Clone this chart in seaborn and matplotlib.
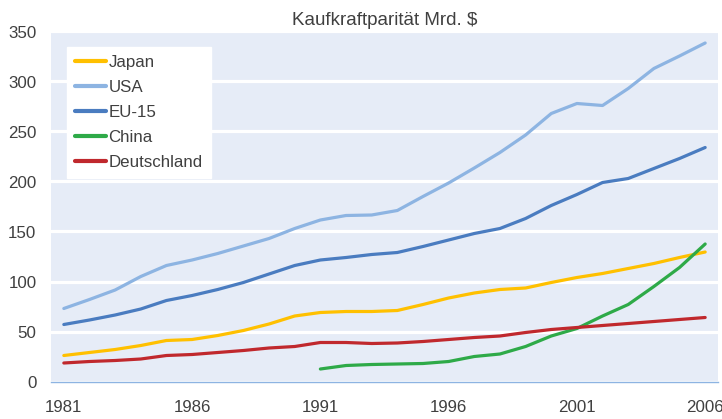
import numpy as np
import pandas as pd
import seaborn as sns
import matplotlib.pyplot as plt
from matplotlib.ticker import FixedLocator

years = list(range(1981, 2007))

japan = [26, 29, 32, 36, 41, 42, 46, 51, 57.5, 65.5, 69, 70, 70, 71, 77, 83.5,
         88.5, 92, 93.5, 99, 104, 108, 113, 118, 124, 129.5]
usa = [73, 82, 91.5, 105, 116, 121.5, 128, 135.5, 143, 153, 161.5, 166, 166.5, 171,
       185, 198.5, 213.5, 229, 246.5, 268, 278, 276, 293, 313, 325.5, 338.5]
eu15 = [57, 61.5, 66.5, 72.5, 81, 86, 92, 99, 107.5, 116, 121.5, 124, 127, 129,
        135, 141.5, 148, 153, 163, 176, 187, 199, 203, 213, 223, 234]
china = [None] * 10 + [12.5, 16, 17, 17.5, 18, 20, 25, 27.5, 35, 45.5, 53, 65.5,
                       77, 95, 114, 137.5]
deutschland = [18.5, 20, 21, 22.5, 26, 27, 29, 31, 33.5, 35, 39, 39, 38, 38.5, 40,
               42, 44, 45.5, 49, 52, 54, 56, 58, 60, 62, 64]

series = ["Japan", "USA", "EU-15", "China", "Deutschland"]
colors = ["#FFC000", "#8DB4E2", "#4A7CC0", "#2EAA48", "#C0282D"]

df = pd.DataFrame({"Jahr": years, "Japan": japan, "USA": usa, "EU-15": eu15,
                   "China": china, "Deutschland": deutschland})
long = df.melt(id_vars="Jahr", var_name="Land", value_name="Wert").dropna()

sns.set_style("white")
plt.rcParams["font.family"] = ["Liberation Sans", "DejaVu Sans"]
txt = "#404040"

fig = plt.figure(figsize=(7.22, 4.19), dpi=100)
ax = fig.add_axes([51 / 722, 37.5 / 419, 667 / 722, 350 / 419])
ax.set_facecolor("#E6ECF7")

sns.lineplot(data=long, x="Jahr", y="Wert", hue="Land", hue_order=series,
             palette=colors, linewidth=2.3, ax=ax)

ax.set_ylim(0, 350)
ax.set_xlim(1980.5, 2006.5)
ax.set_yticks(range(0, 351, 50))
ax.set_xticks(range(1981, 2007, 5))
ax.xaxis.set_minor_locator(FixedLocator(np.arange(1980.5, 2007, 1)))
ax.tick_params(axis="x", which="major", length=0, pad=13, labelsize=12.2, labelcolor=txt)
ax.tick_params(axis="x", which="minor", length=5, width=1, color="#8DB4E2", direction="out")
ax.tick_params(axis="y", length=0, pad=10.5, labelsize=12.2, labelcolor=txt)
ax.set_xlabel("")
ax.set_ylabel("")

ax.grid(axis="y", color="white", linewidth=2.3)
ax.grid(axis="x", visible=False)
for s in ["top", "right", "left"]:
    ax.spines[s].set_visible(False)
ax.spines["bottom"].set_color("#8DB4E2")
ax.spines["bottom"].set_linewidth(1)

ax.set_title("Kaufkraftparität Mrd. $", fontsize=13.5, color=txt, pad=5)

leg = ax.legend(loc="upper left", bbox_to_anchor=(0.024, 0.956), frameon=True,
                fancybox=False, fontsize=12.2, handlelength=1.8, handletextpad=0.15,
                labelspacing=0.58, borderpad=0.5, borderaxespad=0)
leg.get_frame().set_facecolor("white")
leg.get_frame().set_edgecolor("white")
leg.get_frame().set_alpha(1)
for t in leg.get_texts():
    t.set_color(txt)
for h in leg.get_lines():
    h.set_linewidth(3)

fig.savefig("out.png", dpi=100)
